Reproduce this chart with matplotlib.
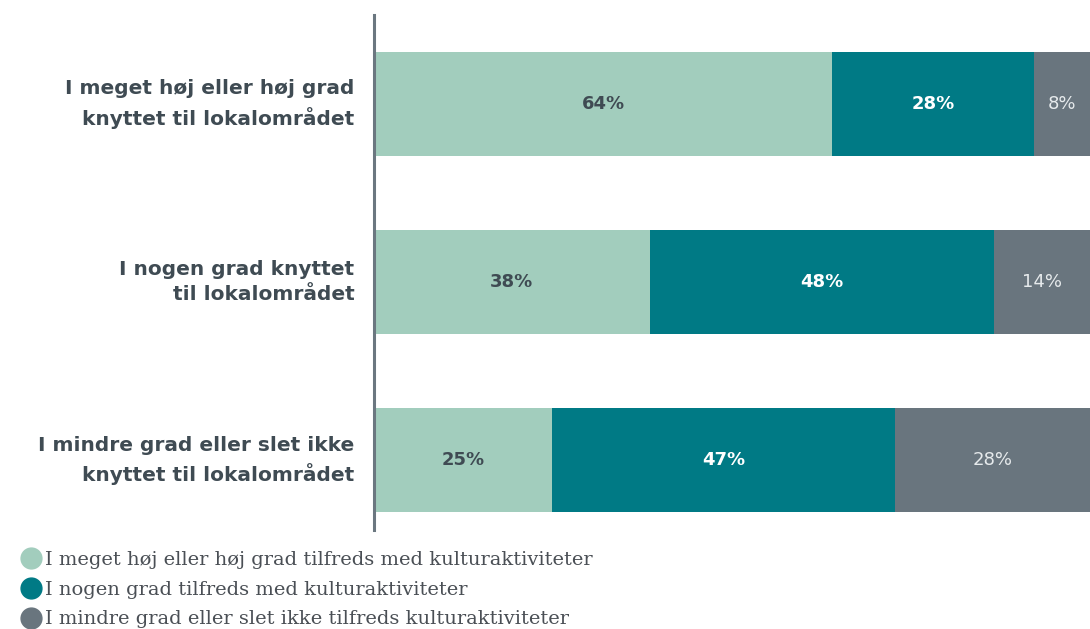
import matplotlib.pyplot as plt
from matplotlib.lines import Line2D

# data
categories = [
    "I meget høj eller høj grad\nknyttet til lokalområdet",
    "I nogen grad knyttet\ntil lokalområdet",
    "I mindre grad eller slet ikke\nknyttet til lokalområdet",
]
high = [64.0, 38.5, 24.9]
some = [28.2, 48.1, 47.9]
low = [7.8, 13.4, 27.2]
high_labels = ["64%", "38%", "25%"]
some_labels = ["28%", "48%", "47%"]
low_labels = ["8%", "14%", "28%"]
series_names = [
    "I meget høj eller høj grad tilfreds med kulturaktiviteter",
    "I nogen grad tilfreds med kulturaktiviteter",
    "I mindre grad eller slet ikke tilfreds kulturaktiviteter",
]

colors = ["#a2cdbd", "#007a85", "#69757e"]
text_colors = ["#3f4b53", "#ffffff", "#e6eaec"]
weights = ["bold", "bold", "normal"]
dark = "#3f4b53"

W, H = 1090, 629
fig = plt.figure(figsize=(W / 100, H / 100), dpi=100)
ax = fig.add_axes([374 / W, 1 - 530 / H, 1 - 374 / W, (530 - 15) / H])

ypos = list(range(len(categories)))
left = [0.0] * len(categories)
for vals, labels, col, tcol, wt in zip(
    [high, some, low], [high_labels, some_labels, low_labels], colors, text_colors, weights
):
    bars = ax.barh(ypos, vals, left=left, height=0.584, color=col, linewidth=0)
    for bar, lab in zip(bars, labels):
        ax.text(
            bar.get_x() + bar.get_width() / 2,
            bar.get_y() + bar.get_height() / 2,
            lab,
            ha="center",
            va="center",
            color=tcol,
            fontsize=13,
            fontweight=wt,
            family="DejaVu Sans",
        )
    left = [l + v for l, v in zip(left, vals)]

ax.set_xlim(0, 100)
ax.set_ylim(2.393, -0.5)
ax.set_yticks(ypos)
ax.set_yticklabels(categories, fontsize=14.5, fontweight="bold", color=dark,
                   family="DejaVu Sans", linespacing=1.45, va="center")
ax.tick_params(axis="y", length=0, pad=14)
ax.set_xticks([])
for side in ["top", "right", "bottom"]:
    ax.spines[side].set_visible(False)
ax.spines["left"].set_linewidth(2.2)
ax.spines["left"].set_color("#6b7780")

handles = [
    Line2D([], [], marker="o", linestyle="none", markersize=15,
           markerfacecolor=c, markeredgecolor=c)
    for c in colors
]
fig.legend(
    handles,
    series_names,
    loc="upper left",
    bbox_to_anchor=(18 / W, 1 - 551 / H),
    frameon=False,
    handletextpad=0.1,
    handlelength=1.3,
    labelspacing=0.6,
    borderaxespad=0,
    borderpad=0,
    prop={"family": "DejaVu Serif", "size": 14},
    labelcolor="#4a4f55",
)

fig.savefig("out.png", dpi=100)
